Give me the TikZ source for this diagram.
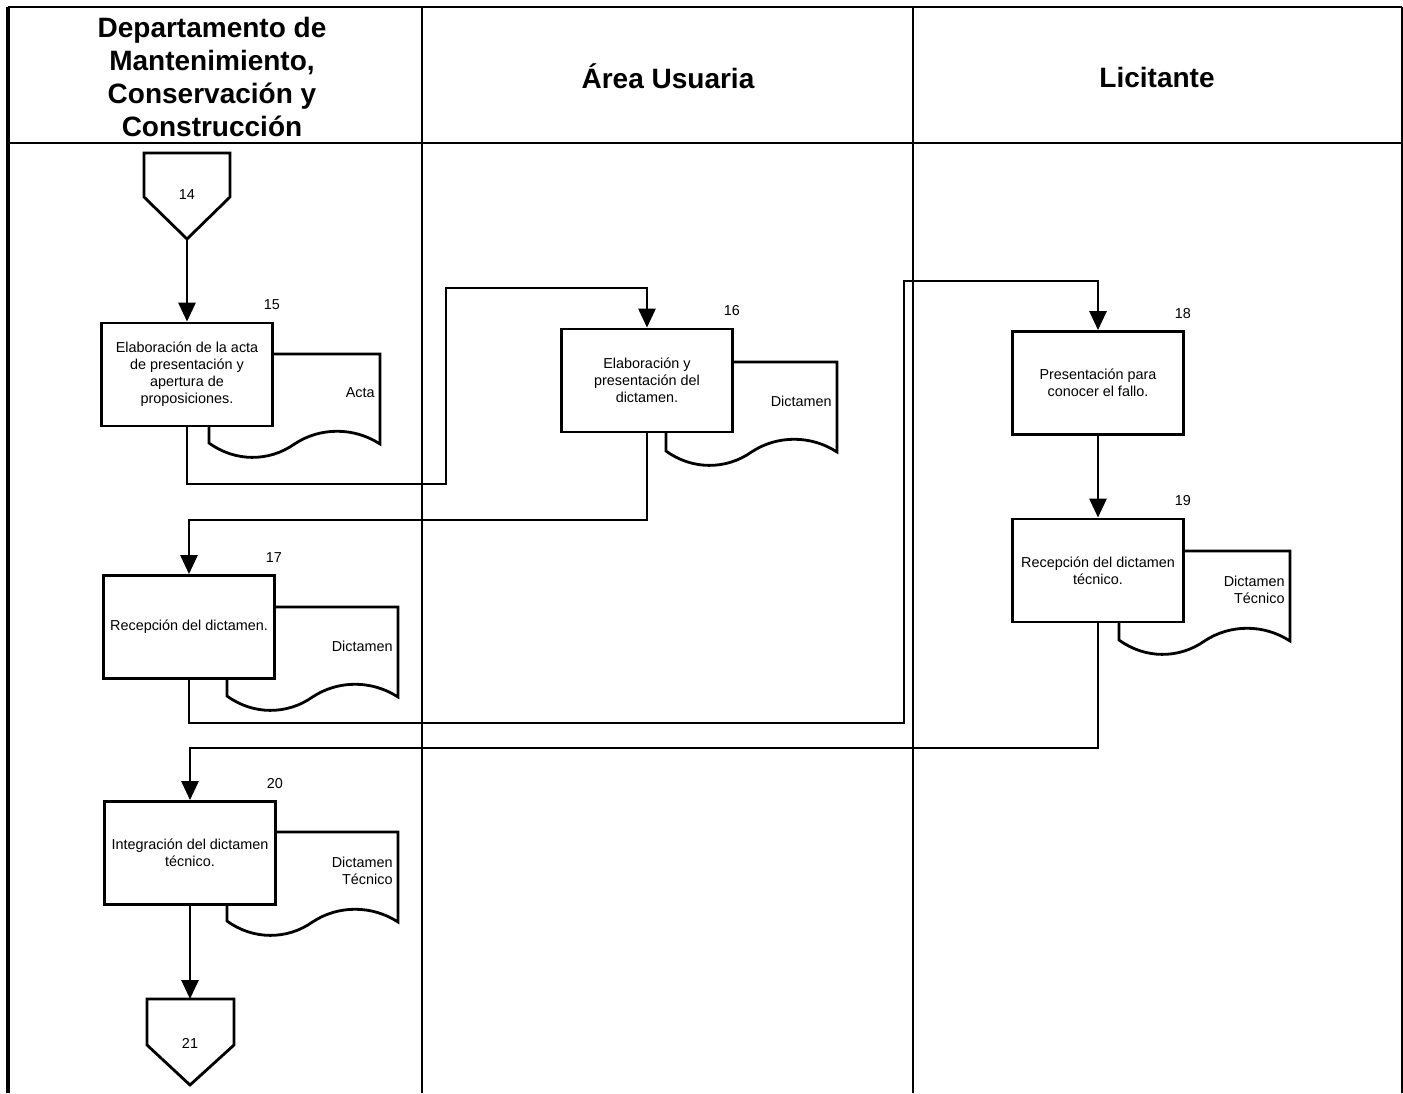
\documentclass[tikz,border=0pt]{standalone}
\usepackage{fontspec}
\setmainfont{Liberation Sans}
\usetikzlibrary{arrows.meta}

% Document symbol: top-left corner (#2,#3), wavy bottom edge, caption #4 named #1
\newcommand\flowdoc[4]{%
  \draw[docline] (#2,#3) -- ({#2+171},#3) -- ({#2+171},{#3+90})
    .. controls ({#2+145},{#3+73}) and ({#2+111},{#3+73}) .. ({#2+85.5},{#3+90})
    .. controls ({#2+60},{#3+108}) and ({#2+26},{#3+108}) .. (#2,{#3+89})
    -- cycle;
  \node[doctext,anchor=east] (#1) at ({#2+166},{#3+39}) {#4};
}

\begin{document}
\begin{tikzpicture}[x=0.5pt,y=-0.5pt,
  lane/.style={line width=1.1pt},
  docline/.style={draw,line width=1.4pt,fill=white},
  doctext/.style={inner sep=0pt,align=right,font=\fontsize{7.2pt}{8.5pt}\selectfont},
  stepbox/.style={draw,line width=1.4pt,fill=white,minimum width=85.5pt,
    minimum height=51.5pt,inner sep=1pt,align=center,
    font=\fontsize{7.2pt}{8.5pt}\selectfont},
  steplabel/.style={inner sep=0pt,font=\fontsize{7.2pt}{8.5pt}\selectfont},
  offpage/.style={draw,line width=1.4pt,line join=miter},
  head/.style={align=center,inner sep=0pt,font=\bfseries\fontsize{14pt}{16.5pt}\selectfont},
  flow/.style={line width=1.4pt,-{Triangle[length=9.5pt,width=8.5pt]}}
]
\useasboundingbox (0,0) rectangle (1403,1093);

% swimlane frame
\draw[lane] (8,7) -- (1402,7);
\draw[lane] (8,143) -- (1402,143);
\draw[line width=1.6pt] (8,7) -- (8,1093);
\draw[lane] (422,7) -- (422,1093);
\draw[lane] (913,7) -- (913,1093);
\draw[lane] (1402,7) -- (1402,1093);

% lane headings
\node[head] (h1) at (212,77) {Departamento de\\Mantenimiento,\\Conservación y\\Construcción};
\node[head] (h2) at (668,76) {Área Usuaria};
\node[head] (h3) at (1157,77) {Licitante};

% off-page connector 14
\draw[offpage] (144,153) -- (230,153) -- (230,197) -- (187,239) -- (144,197) -- cycle;
\node[steplabel] (c14) at (187,195) {14};
\coordinate (c14tip) at (187,239);

% documents (drawn under their activity boxes)
\flowdoc{d15}{209}{354}{Acta}
\flowdoc{d16}{666}{362}{Dictamen}
\flowdoc{d17}{227}{607}{Dictamen}
\flowdoc{d19}{1119}{551}{Dictamen\\Técnico}
\flowdoc{d20}{227}{832}{Dictamen\\Técnico}

% activities
\node[stepbox] (b15) at (187,374.5) {Elaboración de la acta\\de presentación y\\apertura de\\proposiciones.};
\node[stepbox] (b16) at (647,380.5) {Elaboración y\\presentación del\\dictamen.};
\node[stepbox] (b17) at (189,627) {Recepción del dictamen.};
\node[stepbox] (b18) at (1098,383) {Presentación para\\conocer el fallo.};
\node[stepbox] (b19) at (1098,570.5) {Recepción del dictamen\\técnico.};
\node[stepbox] (b20) at (190,853) {Integración del dictamen\\técnico.};

% step numbers
\foreach \b/\n in {b15/15,b16/16,b17/17,b18/18,b19/19,b20/20}
  \node[steplabel] (n\n) at ([shift={(-2,-17)}]\b.north east) {\n};

% off-page connector 21
\draw[offpage] (147,999) -- (234,999) -- (234,1045) -- (190,1085) -- (147,1045) -- cycle;
\node[steplabel] (c21) at (190,1043) {21};
\coordinate (c21top) at (190,999);

% bend points of the connectors
\coordinate (j1) at (446,484);
\coordinate (j2) at (446,288);
\coordinate (j3) at (647,520);
\coordinate (j4) at (904,723);
\coordinate (j5) at (904,281);
\coordinate (j6) at (1098,748);

% flow
\draw[flow] (c14tip) -- (c14tip |- b15.north);
\draw[flow] (b15.south) |- (j1) -- (j2) -| (b16.north);
\draw[flow] (b16.south) -- (j3) -| (b17.north);
\draw[flow] (b17.south) |- (j4) -- (j5) -| (b18.north);
\draw[flow] (b18.south) -- (b19.north);
\draw[flow] (b19.south) -- (j6) -| (b20.north);
\draw[flow] (b20.south) -- (c21top);
\end{tikzpicture}
\end{document}
